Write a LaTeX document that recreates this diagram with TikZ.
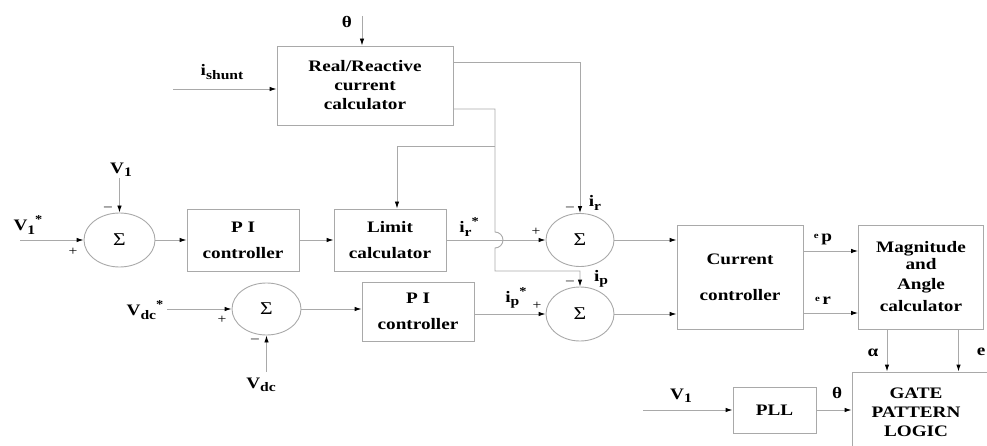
\documentclass[tikz,border=0pt]{standalone}
\usepackage{fontspec}
\setmainfont{Liberation Serif}[FakeStretch=1.2]
\usepackage{tikz}
\usetikzlibrary{arrows.meta,positioning,calc,shapes.geometric}
\definecolor{wiregray}{HTML}{A9A9A9}
\newcommand{\lsub}[1]{\raisebox{-3.5pt}{\fontsize{13}{13}\selectfont #1}}
\newcommand{\lsup}[1]{\raisebox{7pt}{\fontsize{12}{12}\selectfont #1}}
\tikzset{
  block/.style={draw=wiregray, line width=0.9pt, align=center, inner sep=0pt, font=\bfseries\fontsize{16}{19}\selectfont},
  summer/.style={draw=wiregray, line width=0.9pt, ellipse, inner sep=0pt, font=\fontsize{18}{19}\selectfont},
  lbl/.style={font=\bfseries\fontsize{16}{19}\selectfont, inner sep=0pt},
  sgn/.style={font=\fontsize{13}{13}\selectfont, inner sep=0pt},
  line/.style={draw=wiregray, line width=0.9pt, -{Latex[length=7pt,width=4.5pt,color=black]}},
  wire/.style={draw=wiregray, line width=0.9pt}
}

\begin{document}
\begin{tikzpicture}[x=1pt,y=-1pt]
  \useasboundingbox (0,0) rectangle (987,446);

  % Blocks
  \node[block, minimum width=176, minimum height=79] (rrc) at (365,85.5) {Real/Reactive\\current\\calculator};
  \node[summer, minimum width=71, minimum height=54] (s1) at (119.5,240) {Σ};
  \node[block, minimum width=112, minimum height=62] (pi1) at (243,240) {P I\\[7pt]controller};
  \node[block, minimum width=112, minimum height=62] (lim) at (390,240) {Limit\\[7pt]calculator};
  \node[summer, minimum width=68, minimum height=53] (sr) at (580,240) {Σ};
  \node[summer, minimum width=68, minimum height=54] (sp) at (580,314) {Σ};
  \node[summer, minimum width=69, minimum height=52] (sdc) at (266.5,309) {Σ};
  \node[block, minimum width=112, minimum height=59] (pi2) at (418,311.5) {P I\\[7pt]controller};
  \node[block, minimum width=126, minimum height=104] (cc) at (740,277) {Current\\[17pt]controller};
  \node[block, minimum width=125, minimum height=104] (mac) at (921,277) {Magnitude\\[-2pt]and\\[1pt]Angle\\[3pt]calculator};
  \node[block, minimum width=150, minimum height=90] (gpl) at (927,417) {};
  \node[lbl, align=center] (gpltxt) at (916,412) {GATE\\PATTERN\\LOGIC};
  \node[block, minimum width=83, minimum height=46] (pll) at (774.5,410) {PLL};

  % Free ends
  \coordinate (thtop) at (362,16);
  \coordinate (ishin) at (173,89);
  \coordinate (v1in) at (20,240);
  \coordinate (v1top) at (119.5,178);
  \coordinate (vdcin) at (167,309);
  \coordinate (vdcbot) at (266.5,372);
  \coordinate (v1pll) at (643,410);
  \coordinate (tap) at (495,146);

  % Connectors
  \draw[line] (thtop) -- (thtop |- rrc.north);
  \draw[line] (ishin) -- (rrc.west |- ishin);
  \draw[line] (v1in) -- (s1.west);
  \draw[line] (v1top) -- (s1.north);
  \draw[line] (s1.east) -- (pi1.west);
  \draw[line] (pi1.east) -- (lim.west);
  \draw[line] (lim.east) -- (sr.west);
  \draw[line] ([yshift=23.5pt]rrc.east) -| (sr.north);
  \draw[line] ([yshift=-23.5pt]rrc.east) -| (495,232) arc[start angle=90, end angle=-90, radius=8pt] -- (495,271) -| (sp.north);
  \draw[line] (tap) -| ([xshift=7pt]lim.north);
  \draw[line] (vdcin) -- (sdc.west);
  \draw[line] (vdcbot) -- (sdc.south);
  \draw[line] (sdc.east) -- (pi2.west |- sdc.east);
  \draw[line] (pi2.east |- sp.west) -- (sp.west);
  \draw[line] (sr.east) -- (cc.west |- sr.east);
  \draw[line] (sp.east) -- (cc.west |- sp.east);
  \draw[line] ([yshift=26pt]cc.east) -- ([yshift=26pt]mac.west);
  \draw[line] ([yshift=-36pt]cc.east) -- ([yshift=-36pt]mac.west);
  \draw[line] ([xshift=-34pt]mac.south) -- ([xshift=-34pt]mac.south |- gpl.north);
  \draw[line] ([xshift=37.5pt]mac.south) -- ([xshift=37.5pt]mac.south |- gpl.north);
  \draw[line] (v1pll) -- (pll.west);
  \draw[line] (pll.east) -- (gpl.west |- pll.east);

  % Labels
  \node[lbl] (thlbl) at (347,22) {θ};
  \node[lbl] (ishlbl) at (222,72) {i\lsub{shunt}};
  \node[lbl] (v1lbl) at (121,170) {V\lsub{1}};
  \node[lbl] (v1slbl) at (28,225) {V\lsub{1}\lsup{*}};
  \node[lbl] (irslbl) at (469,227) {i\lsub{r}\lsup{*}};
  \node[lbl] (irlbl) at (595,203) {i\lsub{r}};
  \node[lbl] (iplbl) at (601,279) {i\lsub{p}};
  \node[lbl] (ipslbl) at (516,298) {i\lsub{p}\lsup{*}};
  \node[lbl] (vdcslbl) at (145,310) {V\lsub{dc}\lsup{*}};
  \node[lbl] (vdclbl) at (261,385) {V\lsub{dc}};
  \node[lbl] (eplbl) at (823,239) {\raisebox{3pt}{\small e}\,p};
  \node[lbl] (erlbl) at (823,301) {\raisebox{3pt}{\small e}\,r};
  \node[lbl] (alflbl) at (873,353) {α};
  \node[lbl] (elbl) at (981,352) {e};
  \node[lbl] (v1plbl) at (681,396) {V\lsub{1}};
  \node[lbl] (thplbl) at (837,393) {θ};

  % Signs
  \node[sgn] at (108,209) {–};
  \node[sgn] at (73,252) {+};
  \node[sgn] at (536,232) {+};
  \node[sgn] at (570,209) {–};
  \node[sgn] at (570,283) {–};
  \node[sgn] at (537,306) {+};
  \node[sgn] at (222,320) {+};
  \node[sgn] at (255,341) {–};
\end{tikzpicture}
\end{document}
